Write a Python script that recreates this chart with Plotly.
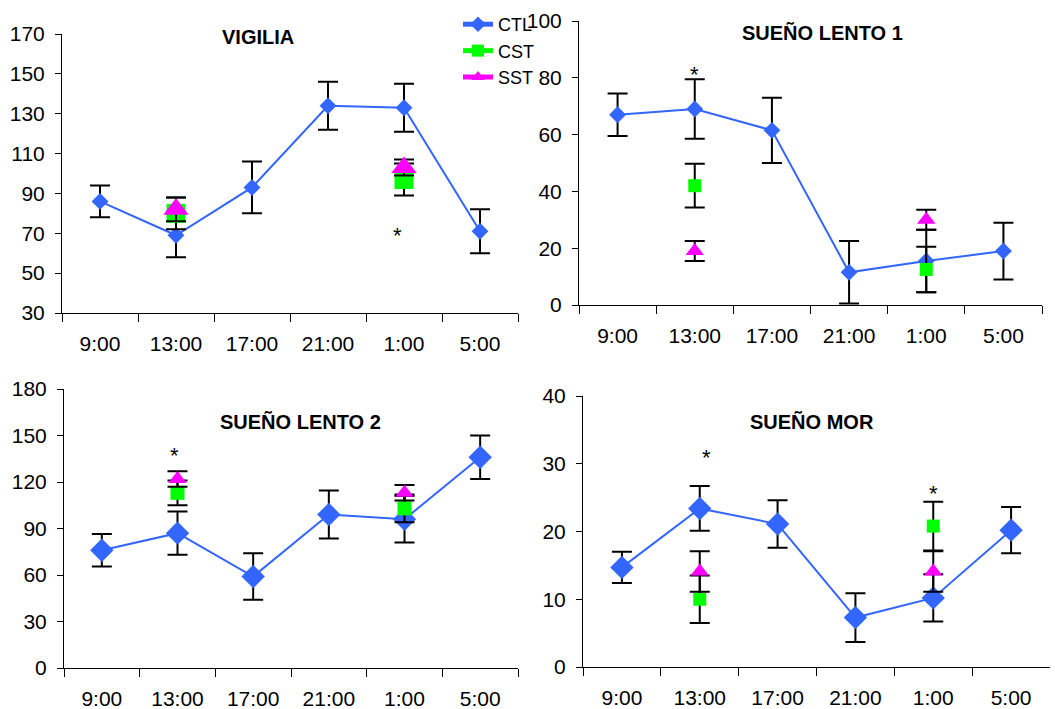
import plotly.graph_objects as go

categories = ["9:00", "13:00", "17:00", "21:00", "1:00", "5:00"]
series_names = ["CTL", "CST", "SST"]

# VIGILIA
vig_ctl = [86, 69, 93, 134, 133, 71]
vig_ctl_err = [8, 11, 13, 12, 12, 11]
vig_cst = [None, 80, None, None, 97, None]
vig_cst_err = [0, 8, 0, 0, 8, 0]
vig_sst = [None, 82, None, None, 103, None]
vig_sst_err = [0, 6, 0, 0, 4, 0]

# SUEÑO LENTO 1
sl1_ctl = [67, 69, 61.5, 11.5, 15.5, 19]
sl1_ctl_err = [7.5, 10.5, 11.5, 11, 11, 10]
sl1_cst = [None, 42, None, None, 12.5, None]
sl1_cst_err = [0, 7.7, 0, 0, 8, 0]
sl1_sst = [None, 19, None, None, 30, None]
sl1_sst_err = [0, 3.5, 0, 0, 3.5, 0]

# SUEÑO LENTO 2
sl2_ctl = [76, 87, 59, 99, 96, 136]
sl2_ctl_err = [10.5, 14, 15, 15.5, 15, 14]
sl2_cst = [None, 113, None, None, 103, None]
sl2_cst_err = [0, 8, 0, 0, 9, 0]
sl2_sst = [None, 122, None, None, 113, None]
sl2_sst_err = [0, 5, 0, 0, 5, 0]

# SUEÑO MOR
mor_ctl = [14.7, 23.4, 21.1, 7.3, 10.2, 20.2]
mor_ctl_err = [2.3, 3.3, 3.5, 3.6, 3.5, 3.4]
mor_cst = [None, 10, None, None, 20.8, None]
mor_cst_err = [0, 3.5, 0, 0, 3.6, 0]
mor_sst = [None, 14.1, None, None, 14.1, None]
mor_sst_err = [0, 3, 0, 0, 3, 0]

panel_titles = ["VIGILIA", "SUEÑO LENTO 1", "SUEÑO LENTO 2", "SUEÑO MOR"]
y_ranges = [[30, 170], [0, 100], [0, 180], [0, 40]]
y_dticks = [20, 20, 30, 10]
y_tick0 = [30, 0, 0, 0]

# asterisks: (panel index, category, y value, xshift)
asterisks = [(0, "1:00", 71, -7), (1, "13:00", 82.5, 0), (2, "13:00", 140, -3),
             (3, "13:00", 31.5, 7), (3, "1:00", 26.2, 0)]

panels = [
    (vig_ctl, vig_ctl_err, vig_cst, vig_cst_err, vig_sst, vig_sst_err),
    (sl1_ctl, sl1_ctl_err, sl1_cst, sl1_cst_err, sl1_sst, sl1_sst_err),
    (sl2_ctl, sl2_ctl_err, sl2_cst, sl2_cst_err, sl2_sst, sl2_sst_err),
    (mor_ctl, mor_ctl_err, mor_cst, mor_cst_err, mor_sst, mor_sst_err),
]

W, H = 1055, 709
# pixel boxes of plot areas: (left, right, top, bottom)
boxes = [(62, 518, 34, 313), (579, 1042, 21, 305), (64, 518, 389, 668), (583, 1050, 396, 667)]
title_pos = [(258, 37), (822, 33), (300, 422), (812, 422)]
marker_sizes = {
    "CTL": [13, 13, 18, 18],
    "CST": [19, 13, 14, 13],
    "SST": [22, 16, 16, 16],
}

colors = {"CTL": "#3366FF", "CST": "#00FF00", "SST": "#FF00FF"}
symbols = {"CTL": "diamond", "CST": "square", "SST": "triangle-up"}
FONT = "Liberation Sans, Arial, sans-serif"

fig = go.Figure()
layout = dict(width=W, height=H, margin=dict(l=0, r=0, t=0, b=0, autoexpand=False),
              paper_bgcolor="white", plot_bgcolor="white",
              font=dict(family=FONT, color="black"))
annotations = []

for i, data in enumerate(panels):
    xa = "x" if i == 0 else f"x{i+1}"
    ya = "y" if i == 0 else f"y{i+1}"
    series = [(data[0], data[1]), (data[2], data[3]), (data[4], data[5])]
    for j, (name, (vals, errs)) in enumerate(zip(series_names, series)):
        size = marker_sizes[name][i]
        fig.add_trace(go.Scatter(
            x=categories, y=vals, name=name, xaxis=xa, yaxis=ya,
            mode="lines+markers", connectgaps=False,
            line=dict(color=colors[name], width=2),
            marker=dict(symbol=symbols[name], size=size, color=colors[name]),
            error_y=dict(type="data", array=errs, visible=True, color="black",
                         thickness=2, width=10),
            showlegend=(i == 0), legendgroup=name, cliponaxis=False,
        ))
    l, r, t, b = boxes[i]
    xkey = "xaxis" if i == 0 else f"xaxis{i+1}"
    ykey = "yaxis" if i == 0 else f"yaxis{i+1}"
    layout[xkey] = dict(domain=[l / W, r / W], anchor=ya, type="category",
                        categoryorder="array", categoryarray=categories,
                        range=[-0.5, 5.5], tickson="boundaries", ticks="outside",
                        ticklen=8, tickcolor="black", showline=True, linecolor="black",
                        linewidth=1, showgrid=False, zeroline=False, automargin=False,
                        tickfont=dict(size=21, family=FONT, color="black"),
                        ticklabelstandoff=12)
    layout[ykey] = dict(domain=[1 - b / H, 1 - t / H], anchor=xa, range=y_ranges[i],
                        tick0=y_tick0[i], dtick=y_dticks[i], ticks="outside",
                        ticklen=6, tickcolor="black", showline=True, linecolor="black",
                        linewidth=1, showgrid=False, zeroline=False, automargin=False,
                        tickfont=dict(size=21, family=FONT, color="black"),
                        ticklabelstandoff=6)
    tx, ty = title_pos[i]
    annotations.append(dict(text=f"<b>{panel_titles[i]}</b>", x=tx / W, y=1 - ty / H,
                            xref="paper", yref="paper", showarrow=False,
                            xanchor="center", yanchor="middle",
                            font=dict(size=20, family=FONT, color="black")))

for (pi, cat, yv, xs) in asterisks:
    xa = "x" if pi == 0 else f"x{pi+1}"
    ya = "y" if pi == 0 else f"y{pi+1}"
    annotations.append(dict(text="*", x=cat, y=yv, xref=xa, yref=ya, showarrow=False,
                            xshift=xs, yshift=-4,
                            font=dict(size=22, family=FONT, color="black")))

layout["annotations"] = annotations
layout["showlegend"] = True
layout["legend"] = dict(x=458 / W, y=1 - 6 / H, xanchor="left", yanchor="top",
                        bgcolor="rgba(0,0,0,0)", font=dict(size=18, family=FONT, color="black"),
                        tracegroupgap=0, itemsizing="constant")
fig.update_layout(**layout)
fig.write_html("out.html")
